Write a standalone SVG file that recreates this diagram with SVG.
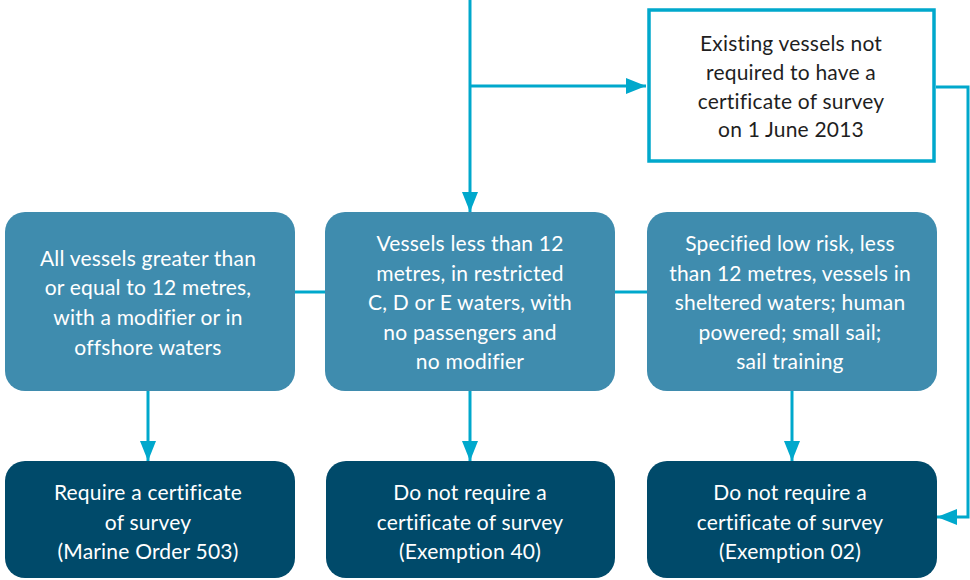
<svg xmlns="http://www.w3.org/2000/svg" width="970" height="580" viewBox="0 0 970 580">
<style>
.mid{fill:#3F8CAE}
.dark{fill:#004A6A}
.out{fill:#ffffff;stroke:#00A8CC;stroke-width:3.5}
.t{font-family:Lato,"Open Sans","Liberation Sans",sans-serif;font-size:21px;letter-spacing:0.2px;text-anchor:middle;fill:#ffffff}
.td{fill:#1f1f1f}
.c{fill:none;stroke:#00A8CC;stroke-width:3}
</style>
<defs>
<marker id="ah" markerUnits="userSpaceOnUse" markerWidth="20" markerHeight="16" refX="20" refY="8" orient="auto">
<path d="M0,0 L20,8 L0,16 Z" fill="#00A8CC"/>
</marker>
</defs>
<g id="connectors">
<path class="c" d="M470,0 V212" marker-end="url(#ah)"/>
<path class="c" d="M470,86 H646" marker-end="url(#ah)"/>
<path class="c" d="M936,87 H968 V517 H937" marker-end="url(#ah)"/>
<path class="c" d="M295,292 H325"/>
<path class="c" d="M615,292 H647"/>
<path class="c" d="M148,391 V461" marker-end="url(#ah)"/>
<path class="c" d="M470,391 V461" marker-end="url(#ah)"/>
<path class="c" d="M792,391 V461" marker-end="url(#ah)"/>
</g>
<g id="existing">
<rect class="out" x="649" y="10" width="285" height="151"/>
<text class="t td" x="791" y="51">Existing vessels not</text>
<text class="t td" x="791" y="80">required to have a</text>
<text class="t td" x="791" y="109">certificate of survey</text>
<text class="t td" x="791" y="137">on 1 June 2013</text>
</g>
<g id="all-vessels">
<rect class="mid" x="5" y="212" width="290" height="179" rx="20"/>
<text class="t" x="148" y="266">All vessels greater than</text>
<text class="t" x="148" y="295">or equal to 12 metres,</text>
<text class="t" x="148" y="325">with a modifier or in</text>
<text class="t" x="148" y="355">offshore waters</text>
</g>
<g id="less-than-12">
<rect class="mid" x="325" y="212" width="290" height="179" rx="20"/>
<text class="t" x="470" y="251">Vessels less than 12</text>
<text class="t" x="470" y="281">metres, in restricted</text>
<text class="t" x="470" y="310">C, D or E waters, with</text>
<text class="t" x="470" y="340">no passengers and</text>
<text class="t" x="470" y="369">no modifier</text>
</g>
<g id="low-risk">
<rect class="mid" x="647" y="212" width="290" height="179" rx="20"/>
<text class="t" x="790" y="251">Specified low risk, less</text>
<text class="t" x="790" y="281">than 12 metres, vessels in</text>
<text class="t" x="790" y="310">sheltered waters; human</text>
<text class="t" x="790" y="340">powered; small sail;</text>
<text class="t" x="790" y="369">sail training</text>
</g>
<g id="require">
<rect class="dark" x="5" y="461" width="290" height="117" rx="20"/>
<text class="t" x="148" y="500">Require a certificate</text>
<text class="t" x="148" y="530">of survey</text>
<text class="t" x="148" y="559">(Marine Order 503)</text>
</g>
<g id="exemption40">
<rect class="dark" x="326" y="461" width="289" height="117" rx="20"/>
<text class="t" x="470" y="500">Do not require a</text>
<text class="t" x="470" y="530">certificate of survey</text>
<text class="t" x="470" y="559">(Exemption 40)</text>
</g>
<g id="exemption02">
<rect class="dark" x="647" y="461" width="290" height="117" rx="20"/>
<text class="t" x="790" y="500">Do not require a</text>
<text class="t" x="790" y="530">certificate of survey</text>
<text class="t" x="790" y="559">(Exemption 02)</text>
</g>
</svg>
